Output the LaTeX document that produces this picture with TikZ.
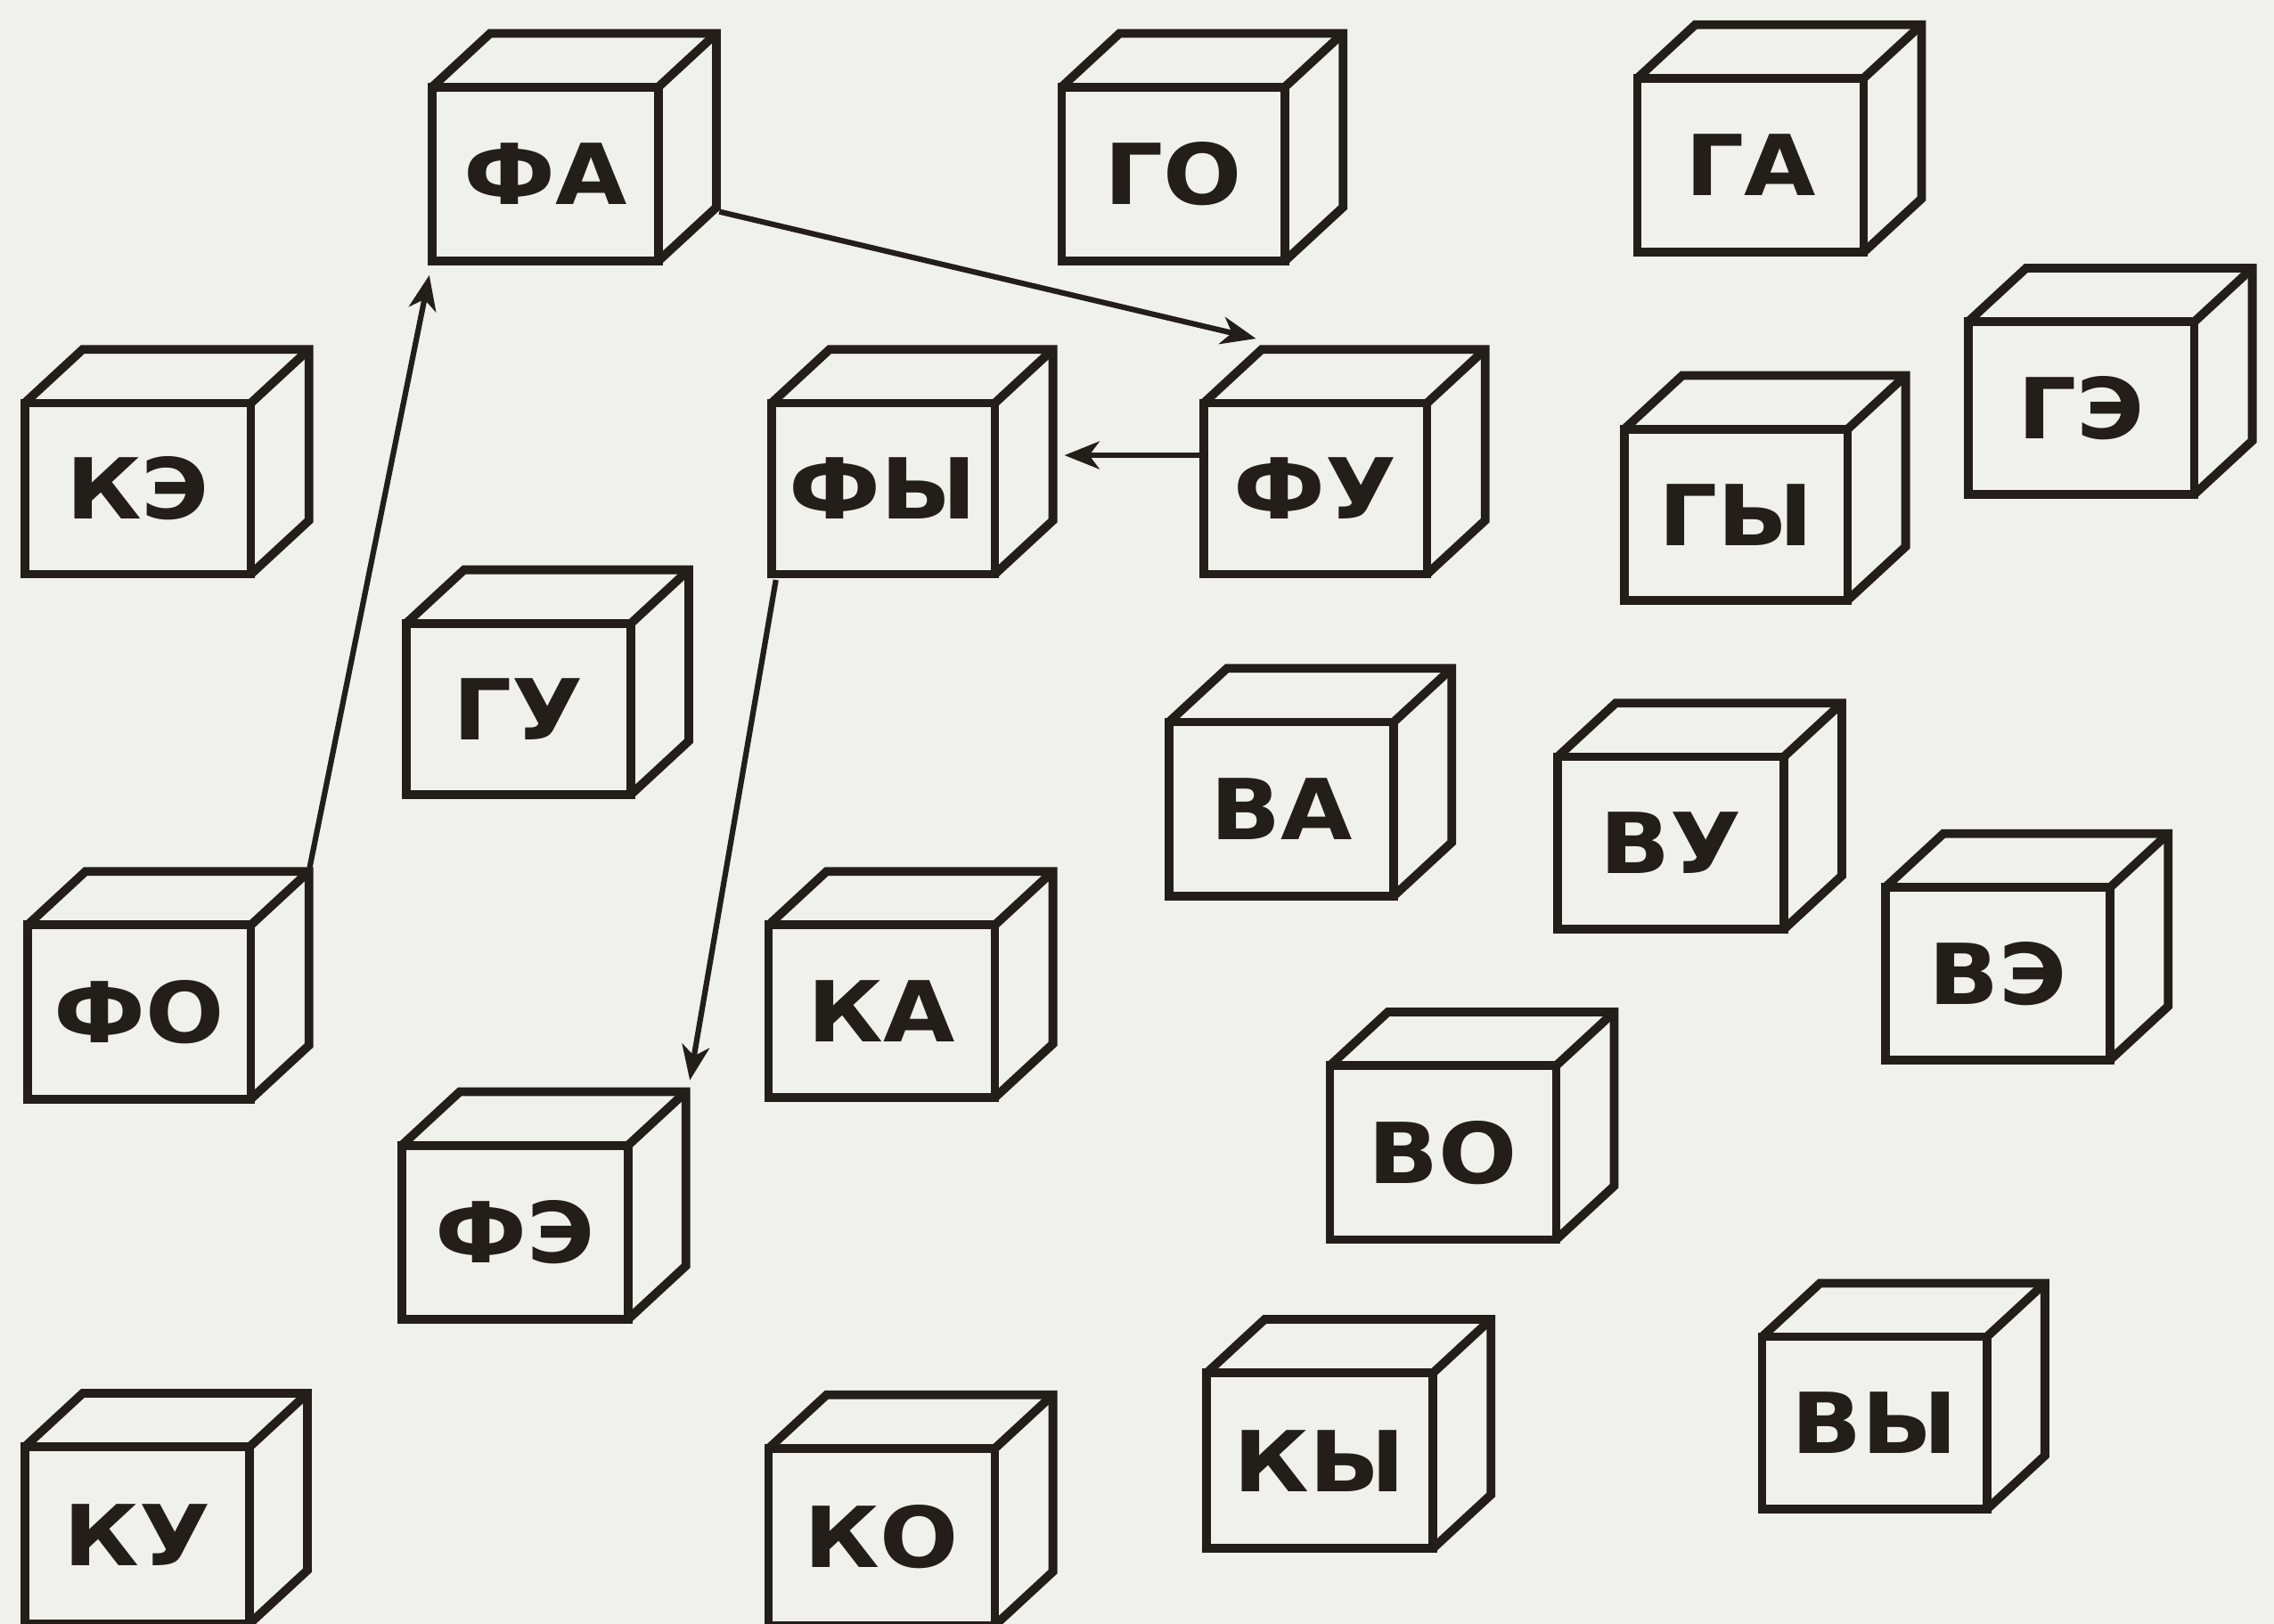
\documentclass[tikz,border=0pt]{standalone}
\usepackage{fontspec}
\setmainfont{DejaVu Sans}[FakeStretch=1.1]
\usetikzlibrary{arrows.meta,calc}
\definecolor{paper}{RGB}{240,240,236}
\definecolor{ink}{RGB}{35,30,25}
\tikzset{
  face/.style={draw=ink, line width=6pt, inner sep=0pt, outer sep=0pt, anchor=north west,
    text=ink, font=\bfseries\fontsize{58}{64}\selectfont},
  edge/.style={draw=ink, line width=6pt, line join=miter},
  arr/.style={draw=ink, line width=3.8pt, -{Stealth[length=24pt,width=19pt,inset=7pt]}}
}
% name, x, ytop (image coords), w, h, label
\newcommand\cubebox[6]{%
  \node[face, minimum width=#4pt, minimum height=#5pt] (#1) at (#2,{1120-#3}) {#6};
  \coordinate (#1tl) at ($(#1.north west)+(40,37)$);
  \coordinate (#1tr) at ($(#1.north east)+(40,37)$);
  \coordinate (#1br) at ($(#1.south east)+(40,37)$);
  \draw[edge] (#1.north west) -- (#1tl) -- (#1tr) -- (#1br) -- (#1.south east);
  \draw[edge] (#1.north east) -- (#1tr);
}
\begin{document}
\begin{tikzpicture}[x=1pt,y=1pt]
\useasboundingbox (0,0) rectangle (1568,1120);
\fill[paper] (0,0) rectangle (1568,1120);
\clip (0,0) rectangle (1568,1120);
\cubebox{FA}{298}{60}{156}{120}{ФА}
\cubebox{GO}{732}{60}{154}{120}{ГО}
\cubebox{GA}{1129}{54}{156}{120}{ГА}
\cubebox{KE}{17}{278}{156}{118}{КЭ}
\cubebox{FY}{532}{278}{154}{118}{ФЫ}
\cubebox{FU}{830}{278}{154}{118}{ФУ}
\cubebox{GY}{1120}{296}{154}{118}{ГЫ}
\cubebox{GE}{1357}{222}{156}{119}{ГЭ}
\cubebox{GU}{280}{430}{155}{118}{ГУ}
\cubebox{VA}{806}{498}{155}{120}{ВА}
\cubebox{VU}{1074}{522}{156}{119}{ВУ}
\cubebox{VE}{1300}{612}{155}{119}{ВЭ}
\cubebox{FO}{19}{638}{154}{120}{ФО}
\cubebox{KA}{530}{638}{156}{119}{КА}
\cubebox{VO}{917}{735}{156}{120}{ВО}
\cubebox{FE}{277}{790}{156}{120}{ФЭ}
\cubebox{KY}{832}{947}{156}{121}{КЫ}
\cubebox{VY}{1215}{922}{155}{119}{ВЫ}
\cubebox{KU}{17}{998}{155}{122}{КУ}
\cubebox{KO}{530}{999}{156}{122}{КО}
% arrows
\coordinate (fustart) at ($(FU.west)+(0,23)$);
\coordinate (fastart) at ($(FAbr)+(2,-3)$);
\coordinate (fuend) at ($(FUtl)+(-2,7)$);
\coordinate (fystart) at ($(FY.south west)+(3,-4)$);
\coordinate (feend) at ($(FEtr)+(2,4)$);
\draw[arr, shorten >=10pt] (FOtr) -- (FA.south west);
\draw[arr, shorten >=2pt] (fastart) -- (fuend);
\draw[arr, shorten >=8pt] (fustart) -- (fustart -| FYbr);
\draw[arr, shorten >=4pt] (fystart) -- (feend);
\end{tikzpicture}
\end{document}
